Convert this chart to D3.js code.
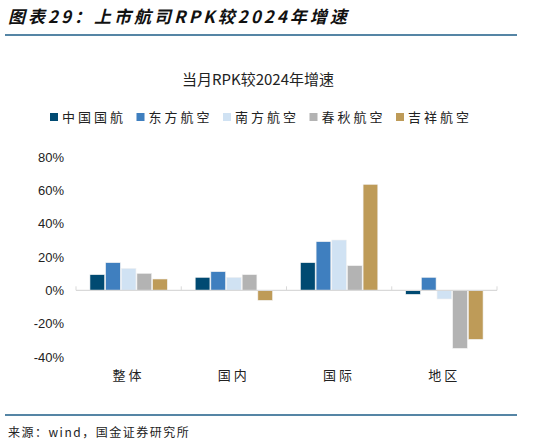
<!DOCTYPE html>
<html>
<head>
<meta charset="utf-8">
<script src="https://cdn.jsdelivr.net/npm/d3@7"></script>
<style>
  body { margin: 0; background: #fff; }
  svg { display: block; }
</style>
</head>
<body>
<svg id="chart" width="541" height="446"></svg>
<script>
// categories and series
const categories = ['整体', '国内', '国际', '地区'];
const seriesNames = ['中国国航', '东方航空', '南方航空', '春秋航空', '吉祥航空'];
const seriesColors = ['#004a72', '#3f7fbf', '#d0e2f3', '#b3b3b3', '#be9b58'];

// growth vs 2024, percent, one array per airline (order follows categories)
const airChina = [9.4, 7.8, 16.6, -2.4];
const chinaEastern = [16.6, 11.2, 29.2, 7.8];
const chinaSouthern = [13.2, 7.8, 30.2, -5.2];
const springAir = [10.2, 9.4, 14.8, -34.8];
const juneyao = [6.8, -6.0, 63.6, -29.4];

const yTicks = [-40, -20, 0, 20, 40, 60, 80];

const seriesValues = [airChina, chinaEastern, chinaSouthern, springAir, juneyao];

const svg = d3.select('#chart');
const cjk = '"Noto Sans CJK SC", "Noto Sans", sans-serif';

// header
svg.append('text')
    .attr('x', 8)
    .attr('y', 23)
    .attr('font-family', cjk)
    .attr('font-size', 17)
    .attr('font-weight', 'bold')
    .attr('font-style', 'italic')
    .attr('letter-spacing', 3)
    .attr('fill', '#111')
    .text('图表29：上市航司RPK较2024年增速');

svg.append('line')
    .attr('x1', 5).attr('x2', 517)
    .attr('y1', 35).attr('y2', 35)
    .attr('stroke', '#1d5c87')
    .attr('stroke-width', 1.6);

svg.append('text')
    .attr('x', 258)
    .attr('y', 85)
    .attr('text-anchor', 'middle')
    .attr('font-family', cjk)
    .attr('font-size', 15)
    .attr('fill', '#222')
    .text('当月RPK较2024年增速');

// legend
const legend = svg.append('g');
seriesNames.forEach((name, i) => {
    const g = legend.append('g')
        .attr('transform', `translate(${50 + i * 86.5},112)`);
    g.append('rect')
        .attr('width', 8).attr('height', 8)
        .attr('y', 1)
        .attr('fill', seriesColors[i]);
    g.append('text')
        .attr('x', 12)
        .attr('y', 10)
        .attr('font-family', cjk)
        .attr('font-size', 13)
        .attr('letter-spacing', 3)
        .attr('fill', '#222')
        .text(name);
});

// scales
const x0 = d3.scaleBand()
    .domain(categories)
    .range([76, 497])
    .paddingInner(0);

const x1 = d3.scaleBand()
    .domain(seriesNames)
    .range([13, x0.bandwidth() - 13])
    .padding(0.06);

const y = d3.scaleLinear()
    .domain([-40, 80])
    .range([357, 157]);

// y tick labels (no axis line)
svg.append('g')
    .attr('transform', 'translate(64,0)')
    .call(d3.axisLeft(y).tickValues(yTicks).tickSize(0).tickPadding(0).tickFormat(d => d + '%'))
    .call(g => g.select('.domain').remove())
    .selectAll('text')
    .attr('font-family', '"Liberation Sans", Arial, sans-serif')
    .attr('font-size', 13)
    .attr('fill', '#222');

// bars
const groups = svg.append('g')
    .selectAll('g')
    .data(categories)
    .join('g')
    .attr('transform', d => `translate(${x0(d)},0)`);

groups.selectAll('rect')
    .data((c, ci) => seriesNames.map((s, si) => ({ s, si, v: seriesValues[si][ci] })))
    .join('rect')
    .attr('x', d => x1(d.s))
    .attr('width', x1.bandwidth())
    .attr('y', d => y(Math.max(0, d.v)))
    .attr('height', d => Math.abs(y(d.v) - y(0)))
    .attr('fill', d => seriesColors[d.si])
    .attr('stroke', '#f2f2f2')
    .attr('stroke-width', 0.6);

// zero axis with category ticks
svg.append('line')
    .attr('x1', 76).attr('x2', 497)
    .attr('y1', y(0)).attr('y2', y(0))
    .attr('stroke', '#d9d9d9')
    .attr('stroke-width', 1.3);
svg.append('g')
    .selectAll('line')
    .data(d3.range(categories.length + 1))
    .join('line')
    .attr('x1', i => 76 + i * x0.bandwidth())
    .attr('x2', i => 76 + i * x0.bandwidth())
    .attr('y1', y(0) - 4)
    .attr('y2', y(0))
    .attr('stroke', '#d9d9d9');

// category labels
svg.append('g')
    .selectAll('text')
    .data(categories)
    .join('text')
    .attr('x', d => x0(d) + x0.bandwidth() / 2)
    .attr('y', 380)
    .attr('text-anchor', 'middle')
    .attr('font-family', cjk)
    .attr('font-size', 13)
    .attr('letter-spacing', 3)
    .attr('fill', '#222')
    .text(d => d);

// footer
svg.append('line')
    .attr('x1', 5).attr('x2', 517)
    .attr('y1', 415).attr('y2', 415)
    .attr('stroke', '#1d5c87')
    .attr('stroke-width', 1.3);

svg.append('text')
    .attr('x', 8)
    .attr('y', 437)
    .attr('font-family', cjk)
    .attr('font-size', 12)
    .attr('letter-spacing', 1.5)
    .attr('fill', '#222')
    .text('来源：wind，国金证券研究所');
</script>
</body>
</html>
